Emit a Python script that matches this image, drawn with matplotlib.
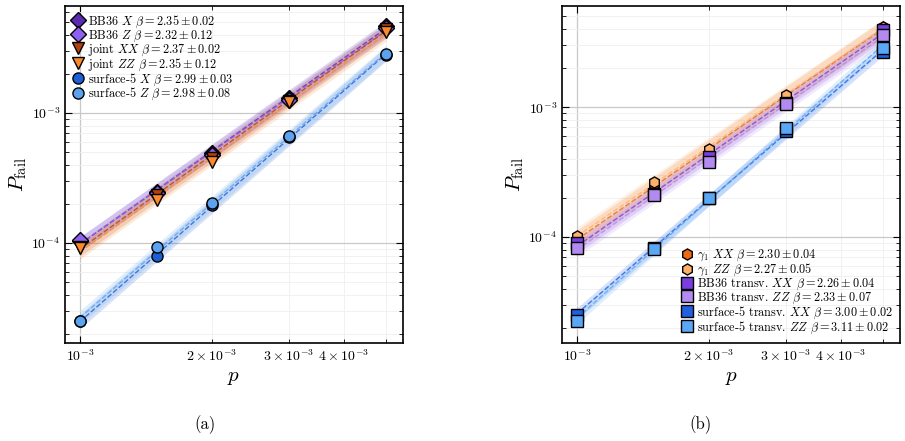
#!/usr/bin/env python3
"""Logical failure rate vs physical error rate, two panels."""
import matplotlib
matplotlib.use("Agg")
import matplotlib.pyplot as plt
import numpy as np

# physical error rates
P_PHYS = [1e-3, 1.5e-3, 2e-3, 3e-3, 5e-3]

# panel (a)
BB36_X = [1.04e-4, 2.47e-4, 4.9e-4, 1.30e-3, 4.7e-3]
BB36_Z = [1.06e-4, 2.42e-4, 4.8e-4, 1.27e-3, 4.55e-3]
JOINT_XX = [9.4e-5, 2.34e-4, 4.5e-4, 1.25e-3, 4.45e-3]
JOINT_ZZ = [9.2e-5, 2.14e-4, 4.2e-4, 1.22e-3, 4.2e-3]
SURF_X = [2.5e-5, 7.9e-5, 1.95e-4, 6.6e-4, 2.8e-3]
SURF_Z = [2.5e-5, 9.4e-5, 2.02e-4, 6.7e-4, 2.85e-3]

# panel (b)
G1_XX = [9.6e-5, 2.55e-4, 4.6e-4, 1.20e-3, 4.1e-3]
G1_ZZ = [1.02e-4, 2.65e-4, 4.75e-4, 1.24e-3, 4.15e-3]
BBT_XX = [9.0e-5, 2.15e-4, 4.1e-4, 1.08e-3, 3.9e-3]
BBT_ZZ = [8.2e-5, 2.1e-4, 3.8e-4, 1.05e-3, 3.6e-3]
SURFT_XX = [2.5e-5, 8.3e-5, 2.0e-4, 6.6e-4, 2.65e-3]
SURFT_ZZ = [2.26e-5, 8.1e-5, 2.0e-4, 6.9e-4, 2.85e-3]

LABELS_A = [
    r"BB36 $X$ $\beta=2.35\pm0.02$",
    r"BB36 $Z$ $\beta=2.32\pm0.12$",
    r"joint $XX$ $\beta=2.37\pm0.02$",
    r"joint $ZZ$ $\beta=2.35\pm0.12$",
    r"surface-5 $X$ $\beta=2.99\pm0.03$",
    r"surface-5 $Z$ $\beta=2.98\pm0.08$",
]
LABELS_B = [
    r"$\gamma_1$ $XX$ $\beta=2.30\pm0.04$",
    r"$\gamma_1$ $ZZ$ $\beta=2.27\pm0.05$",
    r"BB36 transv. $XX$ $\beta=2.26\pm0.04$",
    r"BB36 transv. $ZZ$ $\beta=2.33\pm0.07$",
    r"surface-5 transv. $XX$ $\beta=3.00\pm0.02$",
    r"surface-5 transv. $ZZ$ $\beta=3.11\pm0.02$",
]

plt.rcParams.update({
    "font.family": "serif",
    "font.serif": ["cmr10"],
    "mathtext.fontset": "cm",
    "axes.unicode_minus": False,
    "axes.formatter.use_mathtext": True,
    "xtick.direction": "in",
    "ytick.direction": "in",
    "xtick.top": True,
    "ytick.right": True,
    "xtick.minor.visible": True,
    "ytick.minor.visible": True,
    "xtick.major.size": 5,
    "ytick.major.size": 5,
    "xtick.minor.size": 3,
    "ytick.minor.size": 3,
    "xtick.labelsize": 10,
    "ytick.labelsize": 10,
    "axes.linewidth": 1.2,
})


def draw_series(ax, ys, color, marker, label, band=0.055):
    x = np.array(P_PHYS)
    y = np.array(ys)
    k, c = np.polyfit(np.log10(x), np.log10(y), 1)
    fit = 10 ** (c + k * np.log10(x))
    ax.fill_between(x, fit * 10 ** (-band), fit * 10 ** band,
                    color=color, alpha=0.18, lw=0, zorder=1)
    ax.plot(x, fit, ls="--", color=color, lw=1.0, alpha=0.8, zorder=2)
    ax.plot(x, y, ls="none", marker=marker, ms=8, mfc=color, mec="black",
            mew=1.0, label=label, zorder=3)


def style_axes(ax, ylim):
    ax.set_xscale("log")
    ax.set_yscale("log")
    ax.set_xlim(0.925e-3, 5.46e-3)
    ax.set_ylim(*ylim)
    ax.grid(True, which="major", color="#c8c8c8", lw=0.9)
    ax.grid(True, which="minor", color="#efefef", lw=0.6)
    ax.set_axisbelow(True)
    ax.set_xlabel(r"$p$", fontsize=15)
    ax.set_ylabel(r"$P_{\mathrm{fail}}$", fontsize=15, labelpad=2)


fig = plt.figure(figsize=(9.05, 4.41), dpi=100)
ax_a = fig.add_axes([0.0718, 0.222, 0.3735, 0.764])
ax_b = fig.add_axes([0.621, 0.222, 0.3735, 0.764])

series_a = [
    (BB36_X, "#5b2bb0", "D"),
    (BB36_Z, "#9060f0", "D"),
    (JOINT_XX, "#b5400e", "v"),
    (JOINT_ZZ, "#fb8a2c", "v"),
    (SURF_X, "#1f5fd6", "o"),
    (SURF_Z, "#5ca3ef", "o"),
]
for (ys, col, mk), lab in zip(series_a, LABELS_A):
    draw_series(ax_a, ys, col, mk, lab)

series_b = [
    (G1_XX, "#f06a12", "h", 0.07),
    (G1_ZZ, "#fdb06a", "h", 0.07),
    (BBT_XX, "#7a3de0", "s", 0.055),
    (BBT_ZZ, "#b28af0", "s", 0.055),
    (SURFT_XX, "#1f5fe0", "s", 0.045),
    (SURFT_ZZ, "#5aa8f5", "s", 0.045),
]
for (ys, col, mk, bw), lab in zip(series_b, LABELS_B):
    draw_series(ax_b, ys, col, mk, lab, band=bw)

style_axes(ax_a, (1.7e-5, 6.65e-3))
style_axes(ax_b, (1.53e-5, 5.98e-3))

leg_kw = dict(frameon=False, fontsize=8.8, labelspacing=-0.12, handletextpad=0.3,
              borderaxespad=0.3, handlelength=1.0, borderpad=0.3)
ax_a.legend(loc="upper left", **leg_kw)
ax_b.legend(loc="lower right", **leg_kw)

fig.text(0.2265, 0.036, "(a)", ha="center", va="center", fontsize=12)
fig.text(0.7735, 0.036, "(b)", ha="center", va="center", fontsize=12)

fig.savefig("out.png", dpi=100)
